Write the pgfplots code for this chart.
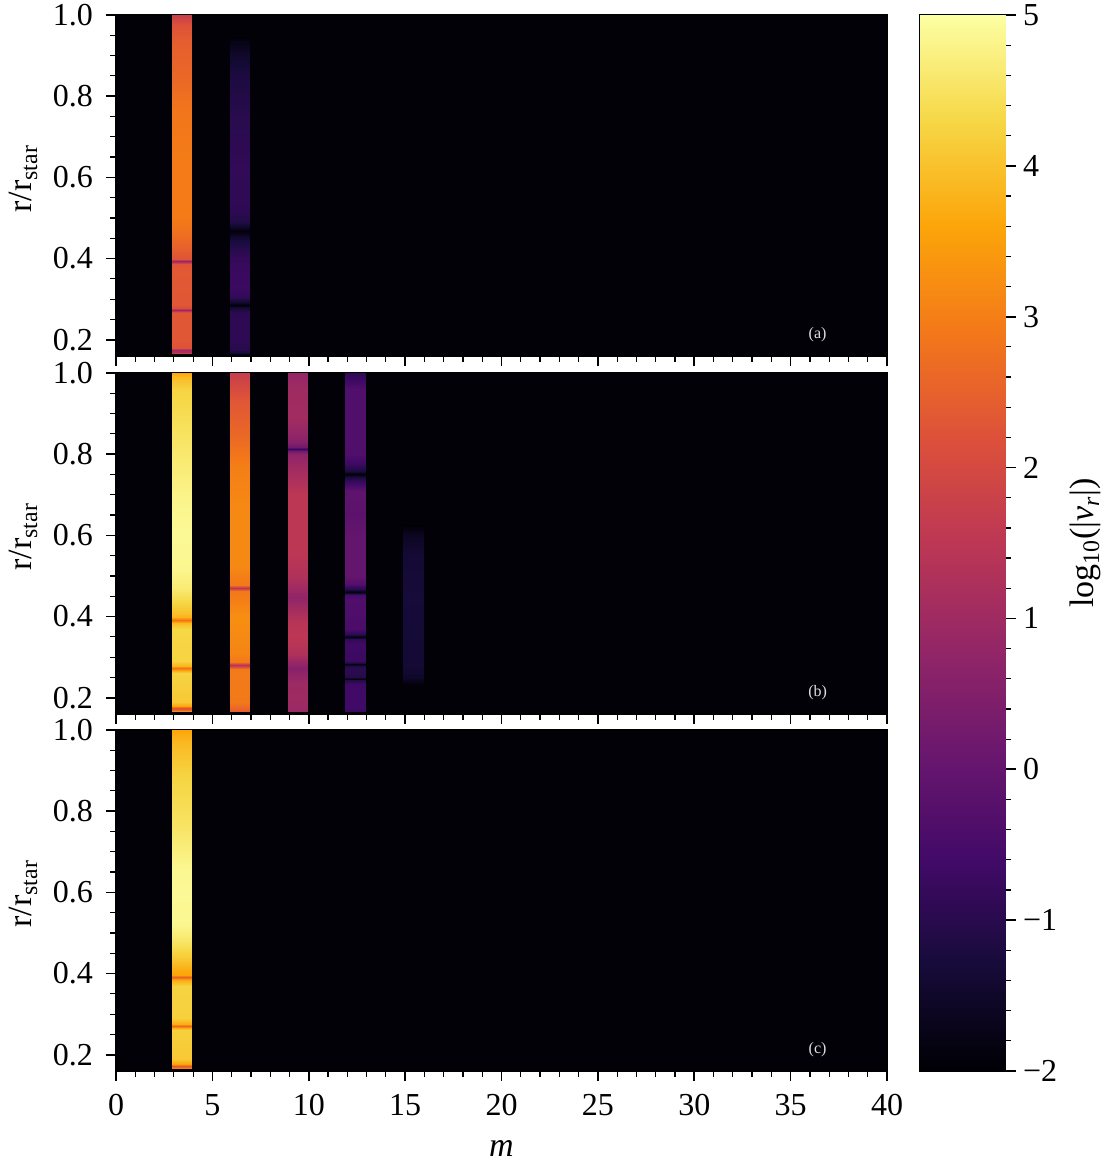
\documentclass[border=0pt]{standalone}
\usepackage{fontspec}
\setmainfont{Liberation Serif}
\usepackage{pgfplots}
\pgfplotsset{compat=1.18}
\definecolor{bgc}{RGB}{2,1,7}
\tikzset{plab/.style={font=\fontsize{8}{9}\selectfont, text=white!88!black}}
\pgfplotsset{
 colormap={inferno}{rgb255=(0,0,4) rgb255=(22,11,57) rgb255=(66,10,104) rgb255=(106,23,110) rgb255=(147,38,103) rgb255=(188,55,84) rgb255=(221,81,58) rgb255=(243,120,25) rgb255=(252,165,10) rgb255=(246,215,70) rgb255=(252,255,164)},
 panel/.style={scale only axis, width=385.5pt, height=170.5pt, anchor=south west,
  xmin=0,xmax=40,ymin=0.16,ymax=1.0,
  axis background/.style={fill=bgc},
  colormap name=inferno, point meta min=-2, point meta max=5,
  xtick={0,5,...,40}, ytick={0.2,0.4,0.6,0.8,1.0}, yticklabels={0.2,0.4,0.6,0.8,1.0},
  minor x tick num=4, minor y tick num=3,
  tick align=outside, xtick pos=bottom, ytick pos=left,
  major tick length=5pt, minor tick length=3pt,
  major tick style={black, line width=0.8pt}, minor tick style={black, line width=0.6pt},
  tick label style={font=\fontsize{16}{18}\selectfont},
  yticklabel style={xshift=-3pt},
  xticklabel style={yshift=-3pt},
  /pgf/number format/assume math mode=true,
  ylabel={r/r\textsubscript{star}},
  ylabel style={font=\fontsize{17}{19}\selectfont, at={(axis description cs:-0.12,0.52)}, anchor=center},
  axis line style={black, line width=0.8pt}},
 mbar/.style={surf, shader=interp, mesh/cols=2, point meta=explicit},
}
\begin{document}
\begin{tikzpicture}
\path[use as bounding box] (0,0) rectangle (555.5pt,581pt);
% ---------------- panel (a)
\begin{axis}[panel, at={(58pt,403pt)}, xticklabels={}]
\addplot[mbar] table[x=x,y=y,meta=c] {
x y c
2.9 0.165 2.2
3.93 0.165 2.2
2.9 0.171 1.2
3.93 0.171 1.2
2.9 0.175 1.0
3.93 0.175 1.0
2.9 0.179 2.2
3.93 0.179 2.2
2.9 0.20 2.3
3.93 0.20 2.3
2.9 0.265 2.3
3.93 0.265 2.3
2.9 0.269 2.1
3.93 0.269 2.1
2.9 0.273 0.9
3.93 0.273 0.9
2.9 0.277 2.1
3.93 0.277 2.1
2.9 0.285 2.3
3.93 0.285 2.3
2.9 0.37 2.35
3.93 0.37 2.35
2.9 0.387 2.25
3.93 0.387 2.25
2.9 0.393 0.9
3.93 0.393 0.9
2.9 0.399 2.25
3.93 0.399 2.25
2.9 0.42 2.45
3.93 0.42 2.45
2.9 0.46 2.75
3.93 0.46 2.75
2.9 0.50 2.95
3.93 0.50 2.95
2.9 0.65 2.95
3.93 0.65 2.95
2.9 0.77 2.85
3.93 0.77 2.85
2.9 0.85 2.6
3.93 0.85 2.6
2.9 0.93 2.45
3.93 0.93 2.45
2.9 0.975 2.2
3.93 0.975 2.2
2.9 1.0 1.7
3.93 1.0 1.7
};
\addplot[mbar] table[x=x,y=y,meta=c] {
x y c
5.9 0.165 -1.4
6.93 0.165 -1.4
5.9 0.175 -1.05
6.93 0.175 -1.05
5.9 0.20 -0.9
6.93 0.20 -0.9
5.9 0.265 -0.95
6.93 0.265 -0.95
5.9 0.277 -1.3
6.93 0.277 -1.3
5.9 0.285 -1.95
6.93 0.285 -1.95
5.9 0.292 -1.4
6.93 0.292 -1.4
5.9 0.305 -0.85
6.93 0.305 -0.85
5.9 0.33 -0.7
6.93 0.33 -0.7
5.9 0.40 -0.8
6.93 0.40 -0.8
5.9 0.44 -1.2
6.93 0.44 -1.2
5.9 0.456 -1.5
6.93 0.456 -1.5
5.9 0.467 -1.95
6.93 0.467 -1.95
5.9 0.475 -1.6
6.93 0.475 -1.6
5.9 0.49 -1.1
6.93 0.49 -1.1
5.9 0.52 -0.9
6.93 0.52 -0.9
5.9 0.62 -0.85
6.93 0.62 -0.85
5.9 0.75 -1.0
6.93 0.75 -1.0
5.9 0.85 -1.2
6.93 0.85 -1.2
5.9 0.90 -1.45
6.93 0.90 -1.45
5.9 0.935 -1.8
6.93 0.935 -1.8
5.9 0.945 -2.0
6.93 0.945 -2.0
};
\node[plab] at (axis cs:36.4,0.212) {(a)};
\end{axis}
% ---------------- panel (b)
\begin{axis}[panel, at={(58pt,224pt)}, xticklabels={}]
\addplot[mbar] table[x=x,y=y,meta=c] {
x y c
2.9 0.165 3.8
3.93 0.165 3.8
2.9 0.170 2.6
3.93 0.170 2.6
2.9 0.175 2.2
3.93 0.175 2.2
2.9 0.180 3.6
3.93 0.180 3.6
2.9 0.19 4.1
3.93 0.19 4.1
2.9 0.26 4.25
3.93 0.26 4.25
2.9 0.267 3.8
3.93 0.267 3.8
2.9 0.273 2.8
3.93 0.273 2.8
2.9 0.279 3.8
3.93 0.279 3.8
2.9 0.29 4.25
3.93 0.29 4.25
2.9 0.37 4.3
3.93 0.37 4.3
2.9 0.384 3.9
3.93 0.384 3.9
2.9 0.391 2.8
3.93 0.391 2.8
2.9 0.398 3.8
3.93 0.398 3.8
2.9 0.41 4.0
3.93 0.41 4.0
2.9 0.44 4.35
3.93 0.44 4.35
2.9 0.47 4.65
3.93 0.47 4.65
2.9 0.52 4.85
3.93 0.52 4.85
2.9 0.60 4.9
3.93 0.60 4.9
2.9 0.70 4.8
3.93 0.70 4.8
2.9 0.80 4.6
3.93 0.80 4.6
2.9 0.90 4.4
3.93 0.90 4.4
2.9 0.96 4.25
3.93 0.96 4.25
2.9 0.99 3.9
3.93 0.99 3.9
2.9 1.0 3.6
3.93 1.0 3.6
};
\addplot[mbar] table[x=x,y=y,meta=c] {
x y c
5.9 0.165 2.4
6.93 0.165 2.4
5.9 0.19 2.9
6.93 0.19 2.9
5.9 0.26 2.95
6.93 0.26 2.95
5.9 0.272 2.9
6.93 0.272 2.9
5.9 0.28 1.4
6.93 0.28 1.4
5.9 0.287 2.9
6.93 0.287 2.9
5.9 0.31 3.1
6.93 0.31 3.1
5.9 0.40 3.25
6.93 0.40 3.25
5.9 0.44 3.0
6.93 0.44 3.0
5.9 0.462 2.9
6.93 0.462 2.9
5.9 0.47 1.5
6.93 0.47 1.5
5.9 0.477 2.9
6.93 0.477 2.9
5.9 0.50 3.0
6.93 0.50 3.0
5.9 0.52 3.15
6.93 0.52 3.15
5.9 0.68 3.15
6.93 0.68 3.15
5.9 0.77 3.0
6.93 0.77 3.0
5.9 0.85 2.6
6.93 0.85 2.6
5.9 0.93 2.3
6.93 0.93 2.3
5.9 1.0 1.7
6.93 1.0 1.7
};
\addplot[mbar] table[x=x,y=y,meta=c] {
x y c
8.9 0.165 0.9
9.93 0.165 0.9
8.9 0.20 1.0
9.93 0.20 1.0
8.9 0.24 0.95
9.93 0.24 0.95
8.9 0.273 0.6
9.93 0.273 0.6
8.9 0.31 1.3
9.93 0.31 1.3
8.9 0.35 1.5
9.93 0.35 1.5
8.9 0.39 1.4
9.93 0.39 1.4
8.9 0.446 0.75
9.93 0.446 0.75
8.9 0.50 1.3
9.93 0.50 1.3
8.9 0.56 1.5
9.93 0.56 1.5
8.9 0.70 1.5
9.93 0.70 1.5
8.9 0.77 1.0
9.93 0.77 1.0
8.9 0.80 0.7
9.93 0.80 0.7
8.9 0.808 0.2
9.93 0.808 0.2
8.9 0.813 -0.8
9.93 0.813 -0.8
8.9 0.818 0.2
9.93 0.818 0.2
8.9 0.83 0.6
9.93 0.83 0.6
8.9 0.85 0.8
9.93 0.85 0.8
8.9 0.89 1.05
9.93 0.89 1.05
8.9 0.96 1.0
9.93 0.96 1.0
8.9 1.0 0.8
9.93 1.0 0.8
};
\addplot[mbar] table[x=x,y=y,meta=c] {
x y c
11.9 0.165 -0.8
12.93 0.165 -0.8
11.9 0.175 -0.6
12.93 0.175 -0.6
11.9 0.235 -0.65
12.93 0.235 -0.65
11.9 0.243 -1.1
12.93 0.243 -1.1
11.9 0.247 -1.9
12.93 0.247 -1.9
11.9 0.251 -1.1
12.93 0.251 -1.1
11.9 0.26 -0.95
12.93 0.26 -0.95
11.9 0.275 -1.0
12.93 0.275 -1.0
11.9 0.279 -1.2
12.93 0.279 -1.2
11.9 0.282 -1.9
12.93 0.282 -1.9
11.9 0.286 -1.2
12.93 0.286 -1.2
11.9 0.29 -0.7
12.93 0.29 -0.7
11.9 0.335 -0.65
12.93 0.335 -0.65
11.9 0.344 -0.9
12.93 0.344 -0.9
11.9 0.35 -1.9
12.93 0.35 -1.9
11.9 0.356 -0.9
12.93 0.356 -0.9
11.9 0.37 -0.45
12.93 0.37 -0.45
11.9 0.44 -0.35
12.93 0.44 -0.35
11.9 0.452 -0.5
12.93 0.452 -0.5
11.9 0.461 -1.9
12.93 0.461 -1.9
11.9 0.468 -1.0
12.93 0.468 -1.0
11.9 0.48 -0.3
12.93 0.48 -0.3
11.9 0.50 0.0
12.93 0.50 0.0
11.9 0.60 0.0
12.93 0.60 0.0
11.9 0.65 -0.15
12.93 0.65 -0.15
11.9 0.71 -0.1
12.93 0.71 -0.1
11.9 0.735 -0.8
12.93 0.735 -0.8
11.9 0.743 -1.3
12.93 0.743 -1.3
11.9 0.751 -1.95
12.93 0.751 -1.95
11.9 0.758 -1.2
12.93 0.758 -1.2
11.9 0.775 -0.7
12.93 0.775 -0.7
11.9 0.80 -0.35
12.93 0.80 -0.35
11.9 0.96 -0.35
12.93 0.96 -0.35
11.9 0.99 -0.8
12.93 0.99 -0.8
11.9 1.0 -0.9
12.93 1.0 -0.9
};
\addplot[mbar] table[x=x,y=y,meta=c] {
x y c
14.9 0.229 -2.0
15.97 0.229 -2.0
14.9 0.25 -1.5
15.97 0.25 -1.5
14.9 0.28 -1.35
15.97 0.28 -1.35
14.9 0.45 -1.3
15.97 0.45 -1.3
14.9 0.55 -1.35
15.97 0.55 -1.35
14.9 0.60 -1.6
15.97 0.60 -1.6
14.9 0.626 -2.0
15.97 0.626 -2.0
};
\node[plab] at (axis cs:36.4,0.212) {(b)};
\end{axis}
% ---------------- panel (c)
\begin{axis}[panel, at={(58pt,45.5pt)}, xlabel={\textit{m}},
  xlabel style={font=\fontsize{17}{19}\selectfont, yshift=-5.5pt}]
\addplot[mbar] table[x=x,y=y,meta=c] {
x y c
2.9 0.165 3.5
3.93 0.165 3.5
2.9 0.169 2.6
3.93 0.169 2.6
2.9 0.173 2.4
3.93 0.173 2.4
2.9 0.178 3.6
3.93 0.178 3.6
2.9 0.19 4.1
3.93 0.19 4.1
2.9 0.26 4.2
3.93 0.26 4.2
2.9 0.267 3.7
3.93 0.267 3.7
2.9 0.272 2.6
3.93 0.272 2.6
2.9 0.277 3.7
3.93 0.277 3.7
2.9 0.29 4.2
3.93 0.29 4.2
2.9 0.37 4.25
3.93 0.37 4.25
2.9 0.383 3.7
3.93 0.383 3.7
2.9 0.391 2.5
3.93 0.391 2.5
2.9 0.397 3.6
3.93 0.397 3.6
2.9 0.41 3.7
3.93 0.41 3.7
2.9 0.44 4.15
3.93 0.44 4.15
2.9 0.48 4.55
3.93 0.48 4.55
2.9 0.52 4.85
3.93 0.52 4.85
2.9 0.60 4.9
3.93 0.60 4.9
2.9 0.66 4.85
3.93 0.66 4.85
2.9 0.77 4.5
3.93 0.77 4.5
2.9 0.89 4.25
3.93 0.89 4.25
2.9 0.965 3.9
3.93 0.965 3.9
2.9 1.0 3.6
3.93 1.0 3.6
};
\node[plab] at (axis cs:36.4,0.212) {(c)};
\end{axis}
% ---------------- colorbar
\begin{axis}[scale only axis, width=42.5pt, height=528pt, at={(460pt,45.5pt)}, anchor=south west,
  xmin=0, xmax=1, ymin=-2, ymax=5, xtick=\empty,
  ytick={-2,-1,0,1,2,3,4,5}, yticklabels={−2,−1,0,1,2,3,4,5},
  minor y tick num=4, ytick pos=right, yticklabel pos=right, tick align=outside,
  major tick length=5.5pt, minor tick length=3pt,
  major tick style={black, line width=0.8pt}, minor tick style={black, line width=0.6pt},
  tick label style={font=\fontsize{16}{18}\selectfont},
  colormap name=inferno, point meta min=-2, point meta max=5,
  axis line style={black, line width=0.8pt},
  ylabel={log\textsubscript{10}(|\textit{v}\textsubscript{\textit{r}}|)},
  ylabel style={font=\fontsize{17}{19}\selectfont, at={(axis description cs:1.95,0.5)}, anchor=center}]
\addplot[mbar] table[x=x,y=y,meta=c] {
x y c
0 -2 -2
1 -2 -2
0 5 5
1 5 5
};
\end{axis}
\end{tikzpicture}
\end{document}
